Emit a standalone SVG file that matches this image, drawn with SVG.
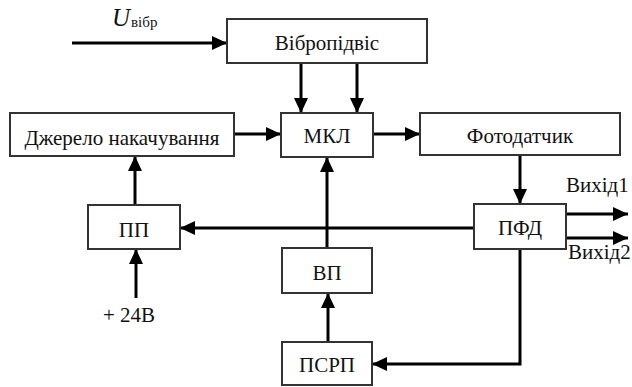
<svg xmlns="http://www.w3.org/2000/svg" width="632" height="387" viewBox="0 0 632 387">
  <style>
    .box { fill: #fff; stroke: #333; stroke-width: 2; }
    .lbl { font-family: "Liberation Serif", "Times New Roman", serif; font-size: 21px; fill: #111; text-anchor: middle; }
    .txt { font-family: "Liberation Serif", "Times New Roman", serif; fill: #111; }
    .wire { fill: none; stroke: #000; stroke-width: 3; }
    .arr { marker-end: url(#head); }
  </style>
  <defs>
    <marker id="head" markerUnits="userSpaceOnUse" markerWidth="15" markerHeight="14" refX="15" refY="7" orient="auto">
      <path d="M0,0 L15,7 L0,14 Z" fill="#000"/>
    </marker>
  </defs>
  <rect width="632" height="387" fill="#fff"/>

  <!-- signal lines -->
  <g id="connectors">
    <path class="wire arr" d="M72,43 H227"/>
    <path class="wire arr" d="M301,63 V113"/>
    <path class="wire arr" d="M357,63 V113"/>
    <path class="wire arr" d="M234,134 H281"/>
    <path class="wire arr" d="M373,134 H420"/>
    <path class="wire arr" d="M520,155 V204"/>
    <path class="wire arr" d="M474,228 H180"/>
    <path class="wire arr" d="M135,205 V156"/>
    <path class="wire arr" d="M136,298 V249"/>
    <path class="wire arr" d="M327,248 V157"/>
    <path class="wire arr" d="M328,342 V293"/>
    <path class="wire arr" d="M520,249 V364 H372"/>
    <path class="wire arr" d="M566,214 H628"/>
    <path class="wire arr" d="M566,238 H628"/>
  </g>

  <!-- input / output labels -->
  <g id="labels">
    <text class="txt" x="112" y="26" font-size="25" font-style="italic">U</text>
    <text class="txt" x="131" y="27" font-size="15">вібр</text>
    <text class="txt" x="566" y="192" font-size="21">Вихід1</text>
    <text class="txt" x="568" y="259" font-size="21">Вихід2</text>
    <text class="lbl" x="129" y="322">+ 24В</text>
  </g>

  <g id="vibro">
    <rect class="box" x="227" y="19" width="200" height="44"/>
    <text class="lbl" x="327" y="50">Вібропідвіс</text>
  </g>
  <g id="pump">
    <rect class="box" x="10" y="113" width="224" height="43"/>
    <text class="lbl" x="122" y="145">Джерело накачування</text>
  </g>
  <g id="mkl">
    <rect class="box" x="281" y="113" width="92" height="44"/>
    <text class="lbl" x="327" y="143">МКЛ</text>
  </g>
  <g id="photo">
    <rect class="box" x="420" y="113" width="200" height="42"/>
    <text class="lbl" x="520" y="143">Фотодатчик</text>
  </g>
  <g id="pp">
    <rect class="box" x="88" y="205" width="92" height="44"/>
    <text class="lbl" x="134" y="237">ПП</text>
  </g>
  <g id="pfd">
    <rect class="box" x="474" y="204" width="92" height="45"/>
    <text class="lbl" x="520" y="235">ПФД</text>
  </g>
  <g id="vp">
    <rect class="box" x="282" y="248" width="90" height="45"/>
    <text class="lbl" x="327" y="280">ВП</text>
  </g>
  <g id="psrp">
    <rect class="box" x="282" y="342" width="90" height="43"/>
    <text class="lbl" x="327" y="372">ПСРП</text>
  </g>
</svg>
